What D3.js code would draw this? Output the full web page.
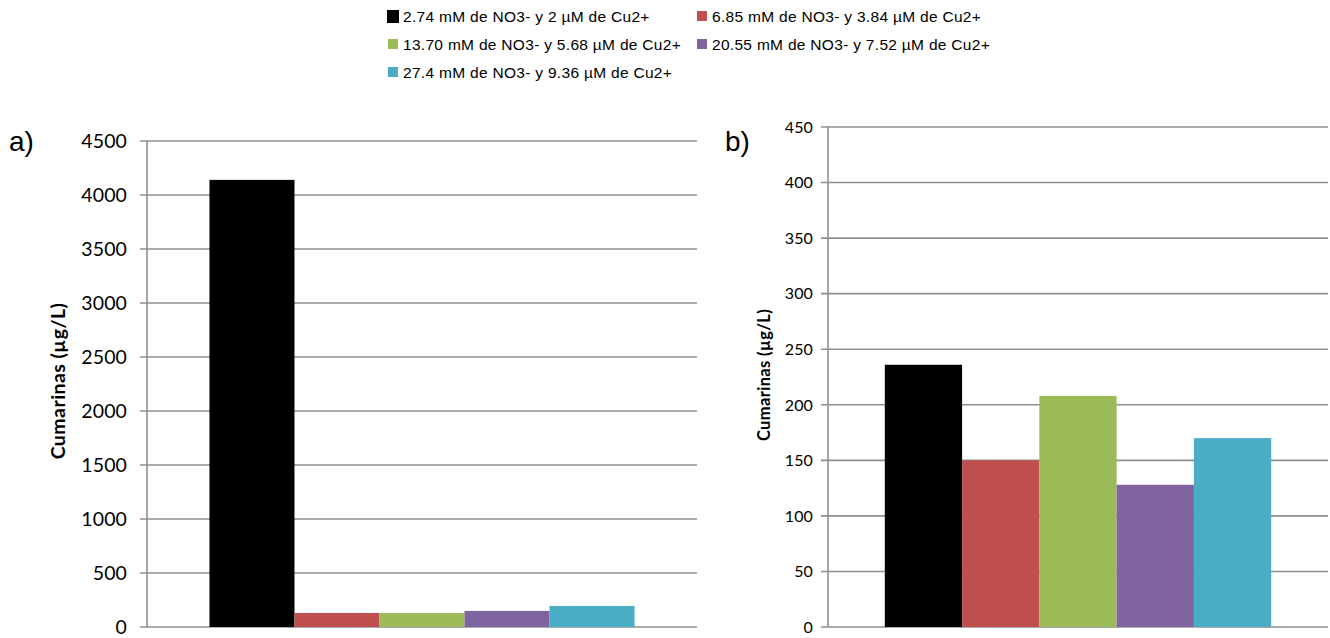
<!DOCTYPE html>
<html>
<head>
<meta charset="utf-8">
<script src="https://cdn.jsdelivr.net/npm/d3@7/dist/d3.min.js"></script>
<style>
  html, body { margin: 0; padding: 0; background: #ffffff; }
  svg { display: block; }
</style>
</head>
<body>
<svg id="chart" width="1330" height="638"></svg>
<script>
// Treatments (nitrate / copper combinations)
const seriesNames = [
  "2.74 mM de NO3- y 2 µM de Cu2+",
  "6.85 mM de NO3- y 3.84 µM de Cu2+",
  "13.70 mM de NO3- y 5.68 µM de Cu2+",
  "20.55 mM de NO3- y 7.52 µM de Cu2+",
  "27.4 mM de NO3- y 9.36 µM de Cu2+"
];
const seriesColors = ["#000000", "#C0504D", "#9BBB59", "#8064A2", "#4BACC6"];

// Coumarin concentration (µg/L) per treatment
const valuesA = [4140, 130, 130, 149, 195];
const valuesB = [236, 150, 208, 128, 170];

// Y-axis tick values
const ticksA = [0, 500, 1000, 1500, 2000, 2500, 3000, 3500, 4000, 4500];
const ticksB = [0, 50, 100, 150, 200, 250, 300, 350, 400, 450];

const yTitle = "Cumarinas (µg/L)";
const panelLetters = ["a)", "b)"];

const svg = d3.select("#chart");
const gridColor = "#8f8f8f";

function drawPanel(opt) {
  const g = svg.append("g");
  const y = d3.scaleLinear().domain([0, opt.max]).range([opt.bottom, opt.top]);

  // single category band, series side by side inside it
  const xCat = d3.scaleBand().domain(["c"]).range([opt.left, opt.right])
    .paddingInner(0).paddingOuter(0.147);
  const xSer = d3.scaleBand().domain(d3.range(opt.values.length))
    .range([0, xCat.bandwidth()]).padding(0);

  // horizontal gridlines
  g.append("g").selectAll("line").data(opt.ticks).join("line")
    .attr("x1", opt.left - 7).attr("x2", opt.right)
    .attr("y1", d => y(d)).attr("y2", d => y(d))
    .attr("stroke", gridColor).attr("stroke-width", 1.6);

  // bars
  g.append("g").selectAll("rect").data(opt.values).join("rect")
    .attr("x", (d, i) => xCat("c") + xSer(i))
    .attr("width", xSer.bandwidth())
    .attr("y", d => y(d))
    .attr("height", d => y(0) - y(d))
    .attr("fill", (d, i) => seriesColors[i]);

  // vertical axis line
  g.append("line")
    .attr("x1", opt.left).attr("x2", opt.left)
    .attr("y1", y(opt.max)).attr("y2", y(0))
    .attr("stroke", gridColor).attr("stroke-width", 1.6);

  // tick labels
  g.append("g").selectAll("text").data(opt.ticks).join("text")
    .attr("x", opt.left - opt.labelGap)
    .attr("y", d => y(d))
    .attr("dy", "0.36em")
    .attr("text-anchor", "end")
    .attr("font-family", "Lato, 'Open Sans', sans-serif")
    .attr("font-size", opt.tickFont)
    .attr("letter-spacing", opt.tickSpacing)
    .attr("fill", "#000")
    .text(d => d);

  // y-axis title
  g.append("text")
    .attr("transform", `translate(${opt.titleX},${opt.titleY}) rotate(-90)`)
    .attr("text-anchor", "middle")
    .attr("dy", "0.35em")
    .attr("font-family", "Lato, 'Open Sans', sans-serif")
    .attr("font-weight", "bold")
    .attr("font-size", opt.titleFont)
    .attr("letter-spacing", opt.titleSpacing)
    .text(yTitle);

  // panel letter
  g.append("text")
    .attr("x", opt.letterX).attr("y", 151)
    .attr("font-family", "'Liberation Sans', Arial, sans-serif")
    .attr("font-size", 28)
    .text(opt.letter);
}

drawPanel({
  values: valuesA, ticks: ticksA, max: 4500,
  left: 147, right: 697, top: 141, bottom: 627,
  labelGap: 20, tickFont: 19.5, tickSpacing: 0.1,
  titleX: 58, titleY: 381, titleFont: 19.5, titleSpacing: 0.45,
  letter: panelLetters[0], letterX: 9
});

drawPanel({
  values: valuesB, ticks: ticksB, max: 450,
  left: 828, right: 1328, top: 127, bottom: 627,
  labelGap: 15, tickFont: 16, tickSpacing: 0.1,
  titleX: 764, titleY: 375, titleFont: 16.5, titleSpacing: 0.35,
  letter: panelLetters[1], letterX: 725
});

// legend
const legendPos = [
  { mx: 388, tx: 403, y: 16 },
  { mx: 697, tx: 712, y: 16 },
  { mx: 388, tx: 403, y: 44 },
  { mx: 697, tx: 712, y: 44 },
  { mx: 388, tx: 403, y: 72 }
];
const legend = svg.append("g");
const items = legend.selectAll("g").data(seriesNames).join("g");
items.append("rect")
  .attr("x", (d, i) => legendPos[i].mx - (i === 0 ? 1 : 0))
  .attr("y", (d, i) => legendPos[i].y - (i === 0 ? 6 : 5))
  .attr("width", (d, i) => i === 0 ? 12 : 10)
  .attr("height", (d, i) => i === 0 ? 13 : 10)
  .attr("fill", (d, i) => seriesColors[i]);
items.append("text")
  .attr("x", (d, i) => legendPos[i].tx)
  .attr("y", (d, i) => legendPos[i].y)
  .attr("dy", "0.36em")
  .attr("font-family", "'Liberation Sans', Arial, sans-serif")
  .attr("font-size", 15.5)
  .attr("letter-spacing", 0.3)
  .attr("fill", "#000")
  .text(d => d);
</script>
</body>
</html>
